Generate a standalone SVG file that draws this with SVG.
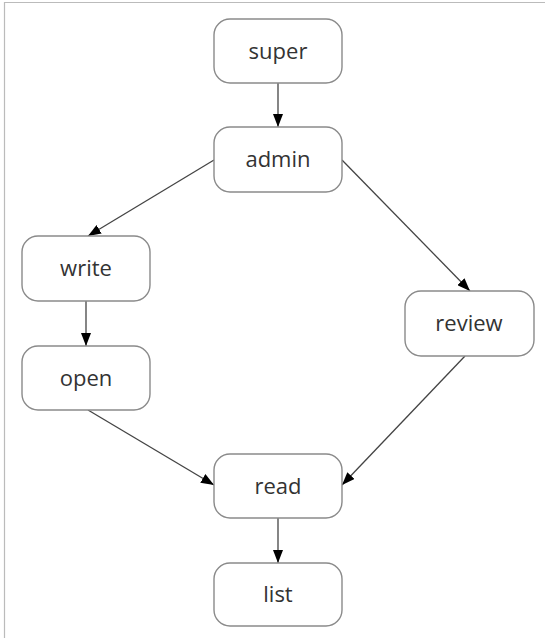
<svg xmlns="http://www.w3.org/2000/svg" width="545" height="638" viewBox="0 0 545 638">
<style>
.box{fill:#fff;stroke:#8a8a8a;stroke-width:1.4}
.lbl{font-family:"Open Sans","Liberation Sans",sans-serif;font-size:22px;fill:#333;text-anchor:middle;dominant-baseline:central}
.edge{stroke:#444;stroke-width:1.3;fill:none;marker-end:url(#ah)}
</style>
<defs>
<marker id="ah" viewBox="0 0 13 10" refX="13" refY="5" markerWidth="13" markerHeight="10" markerUnits="userSpaceOnUse" orient="auto">
<path d="M0,0 L13,5 L0,10 Z" fill="#000"/>
</marker>
</defs>
<rect width="545" height="638" fill="#fff"/>
<path d="M4.5,638 V2.5 H545" stroke="#bbb" stroke-width="1.2" fill="none"/>
<g id="connectors">
<line class="edge" x1="278" y1="83" x2="278" y2="127"/>
<line class="edge" x1="214" y1="160" x2="88" y2="236"/>
<line class="edge" x1="342" y1="160" x2="470" y2="291"/>
<line class="edge" x1="86" y1="301" x2="86" y2="346"/>
<line class="edge" x1="88" y1="410" x2="214" y2="485"/>
<line class="edge" x1="465" y1="356" x2="342" y2="485"/>
<line class="edge" x1="278" y1="518" x2="278" y2="563"/>
</g>
<g id="super"><rect class="box" x="214" y="19" width="128" height="64" rx="16"/><text class="lbl" x="278" y="50">super</text></g>
<g id="admin"><rect class="box" x="214" y="127" width="128" height="65" rx="16"/><text class="lbl" x="278" y="158">admin</text></g>
<g id="write"><rect class="box" x="22" y="236" width="128" height="65" rx="16"/><text class="lbl" x="86" y="267">write</text></g>
<g id="open"><rect class="box" x="22" y="346" width="128" height="64" rx="16"/><text class="lbl" x="86" y="377">open</text></g>
<g id="review"><rect class="box" x="405" y="291" width="129" height="65" rx="16"/><text class="lbl" x="469" y="322">review</text></g>
<g id="read"><rect class="box" x="214" y="454" width="128" height="64" rx="16"/><text class="lbl" x="278" y="485">read</text></g>
<g id="list"><rect class="box" x="214" y="563" width="128" height="63" rx="16"/><text class="lbl" x="278" y="593">list</text></g>
</svg>
